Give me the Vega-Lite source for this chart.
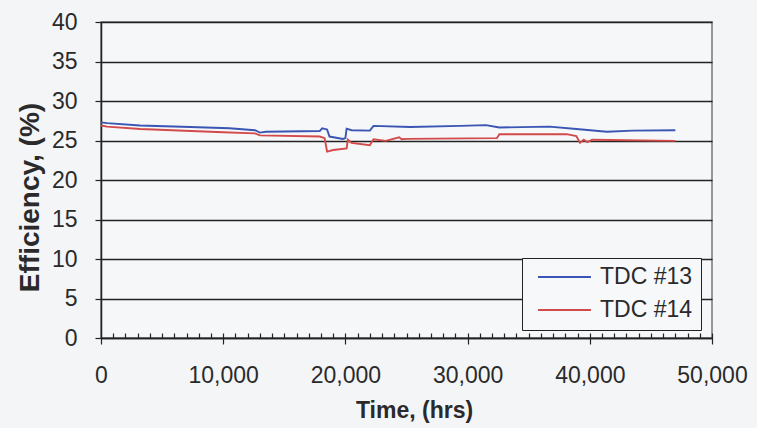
{
  "$schema": "https://vega.github.io/schema/vega-lite/v6.json",
  "width": 611,
  "height": 316,
  "autosize": "none",
  "padding": {"left": 101, "top": 22, "right": 45, "bottom": 90},
  "background": "#f4f5f7",
  "config": {
    "font": "Liberation Sans",
    "view": {"stroke": "#777", "strokeWidth": 1.5, "fill": "#f6f7f9"}
  },
  "data": {
    "values": [
      {"series": "TDC #13", "time": 0, "eff": 27.3},
      {"series": "TDC #13", "time": 500, "eff": 27.2},
      {"series": "TDC #13", "time": 3200, "eff": 26.9},
      {"series": "TDC #13", "time": 7300, "eff": 26.7},
      {"series": "TDC #13", "time": 10500, "eff": 26.55},
      {"series": "TDC #13", "time": 12600, "eff": 26.3},
      {"series": "TDC #13", "time": 13000, "eff": 26.0},
      {"series": "TDC #13", "time": 13500, "eff": 26.1},
      {"series": "TDC #13", "time": 17900, "eff": 26.2},
      {"series": "TDC #13", "time": 18100, "eff": 26.55},
      {"series": "TDC #13", "time": 18500, "eff": 26.4},
      {"series": "TDC #13", "time": 18700, "eff": 25.5},
      {"series": "TDC #13", "time": 19800, "eff": 25.2},
      {"series": "TDC #13", "time": 20000, "eff": 25.3},
      {"series": "TDC #13", "time": 20100, "eff": 26.5},
      {"series": "TDC #13", "time": 20500, "eff": 26.3},
      {"series": "TDC #13", "time": 22000, "eff": 26.25},
      {"series": "TDC #13", "time": 22300, "eff": 26.85},
      {"series": "TDC #13", "time": 25300, "eff": 26.7},
      {"series": "TDC #13", "time": 29400, "eff": 26.85},
      {"series": "TDC #13", "time": 31500, "eff": 26.95},
      {"series": "TDC #13", "time": 32600, "eff": 26.65},
      {"series": "TDC #13", "time": 36700, "eff": 26.75},
      {"series": "TDC #13", "time": 38900, "eff": 26.45},
      {"series": "TDC #13", "time": 41400, "eff": 26.1},
      {"series": "TDC #13", "time": 43500, "eff": 26.25},
      {"series": "TDC #13", "time": 47000, "eff": 26.3},
      {"series": "TDC #14", "time": 0, "eff": 26.9},
      {"series": "TDC #14", "time": 500, "eff": 26.75},
      {"series": "TDC #14", "time": 3200, "eff": 26.45},
      {"series": "TDC #14", "time": 10000, "eff": 26.05},
      {"series": "TDC #14", "time": 12600, "eff": 25.9},
      {"series": "TDC #14", "time": 13000, "eff": 25.65},
      {"series": "TDC #14", "time": 17900, "eff": 25.5},
      {"series": "TDC #14", "time": 18300, "eff": 25.3},
      {"series": "TDC #14", "time": 18500, "eff": 23.6},
      {"series": "TDC #14", "time": 19000, "eff": 23.8},
      {"series": "TDC #14", "time": 20100, "eff": 24.0},
      {"series": "TDC #14", "time": 20200, "eff": 25.1},
      {"series": "TDC #14", "time": 20500, "eff": 24.7},
      {"series": "TDC #14", "time": 22000, "eff": 24.4},
      {"series": "TDC #14", "time": 22300, "eff": 25.15},
      {"series": "TDC #14", "time": 23300, "eff": 24.95},
      {"series": "TDC #14", "time": 24400, "eff": 25.4},
      {"series": "TDC #14", "time": 24600, "eff": 25.15},
      {"series": "TDC #14", "time": 25000, "eff": 25.2},
      {"series": "TDC #14", "time": 32400, "eff": 25.3},
      {"series": "TDC #14", "time": 32600, "eff": 25.8},
      {"series": "TDC #14", "time": 38100, "eff": 25.8},
      {"series": "TDC #14", "time": 38900, "eff": 25.55},
      {"series": "TDC #14", "time": 39200, "eff": 24.7},
      {"series": "TDC #14", "time": 39500, "eff": 25.1},
      {"series": "TDC #14", "time": 39800, "eff": 24.8},
      {"series": "TDC #14", "time": 40200, "eff": 25.1},
      {"series": "TDC #14", "time": 47000, "eff": 24.95}
    ]
  },
  "layer": [
    {
      "mark": {"type": "line", "strokeWidth": 0, "opacity": 0},
      "encoding": {
        "x": {
          "field": "time", "type": "quantitative",
          "scale": {"domain": [0, 50000], "nice": false},
          "axis": {
            "orient": "bottom",
            "values": [1000,2000,3000,4000,5000,6000,7000,8000,9000,10000,11000,12000,13000,14000,15000,16000,17000,18000,19000,20000,21000,22000,23000,24000,25000,26000,27000,28000,29000,30000,31000,32000,33000,34000,35000,36000,37000,38000,39000,40000,41000,42000,43000,44000,45000,46000,47000,48000,49000,50000],
            "labels": false, "grid": false, "domain": false,
            "tickSize": -5, "tickColor": "#222", "tickWidth": 1.2, "title": null
          }
        },
        "y": {
          "field": "eff", "type": "quantitative",
          "scale": {"domain": [0, 40], "nice": false},
          "axis": {
            "values": [0, 5, 10, 15, 20, 25, 30, 35, 40],
            "grid": true, "gridColor": "#222", "gridWidth": 1.3,
            "domainColor": "#222", "domainWidth": 1.5,
            "tickColor": "#222", "tickWidth": 1.2, "tickSize": 6,
            "labelFontSize": 23, "labelColor": "#2a2a2a", "labelPadding": 18,
            "title": "Efficiency, (%)", "titleFontSize": 28, "titleFontWeight": "bold",
            "titleColor": "#2a2a2a", "titleX": -71, "titleY": 175,
            "titleAngle": -90, "titleAlign": "center", "titleBaseline": "middle"
          }
        }
      }
    },
    {
      "mark": {"type": "line", "strokeWidth": 1.9, "interpolate": "linear"},
      "encoding": {
        "x": {
          "field": "time", "type": "quantitative",
          "axis": {
            "orient": "bottom",
            "values": [0, 10000, 20000, 30000, 40000, 50000],
            "format": ",d",
            "grid": false,
            "domainColor": "#222", "domainWidth": 1.5,
            "tickColor": "#222", "tickWidth": 1.2, "tickSize": 6,
            "labelFontSize": 23, "labelColor": "#2a2a2a", "labelPadding": 20,
            "labelFlush": false,
            "title": "Time, (hrs)", "titleFontSize": 23, "titleFontWeight": "bold",
            "titleColor": "#2a2a2a", "titleX": 313, "titleY": 61,
            "titleAlign": "center", "titleBaseline": "top"
          }
        },
        "y": {
          "field": "eff", "type": "quantitative",
          "axis": {
            "values": [0, 5, 10, 15, 20, 25, 30, 35, 40],
            "grid": true, "gridColor": "#222", "gridWidth": 1.3,
            "domainColor": "#222", "domainWidth": 1.5,
            "tickColor": "#222", "tickWidth": 1.2, "tickSize": 6,
            "labelFontSize": 23, "labelColor": "#2a2a2a", "labelPadding": 18,
            "title": "Efficiency, (%)", "titleFontSize": 28, "titleFontWeight": "bold",
            "titleColor": "#2a2a2a", "titleX": -71, "titleY": 175,
            "titleAngle": -90, "titleAlign": "center", "titleBaseline": "middle"
          }
        },
        "color": {
          "field": "series", "type": "nominal",
          "scale": {"domain": ["TDC #13", "TDC #14"], "range": ["#3a55b4", "#d24a4a"]},
          "legend": {
            "title": null,
            "orient": "none", "legendX": 421, "legendY": 236,
            "symbolType": "stroke", "symbolSize": 2800, "symbolStrokeWidth": 1.9,
            "symbolOffset": 7,
            "clipHeight": 22, "rowPadding": 10,
            "labelFontSize": 23, "labelColor": "#2a2a2a", "labelOffset": 8,
            "padding": 8, "strokeColor": "#222", "fillColor": "#f7f8fa"
          }
        }
      }
    }
  ],
  "resolve": {"axis": {"x": "independent"}}
}
